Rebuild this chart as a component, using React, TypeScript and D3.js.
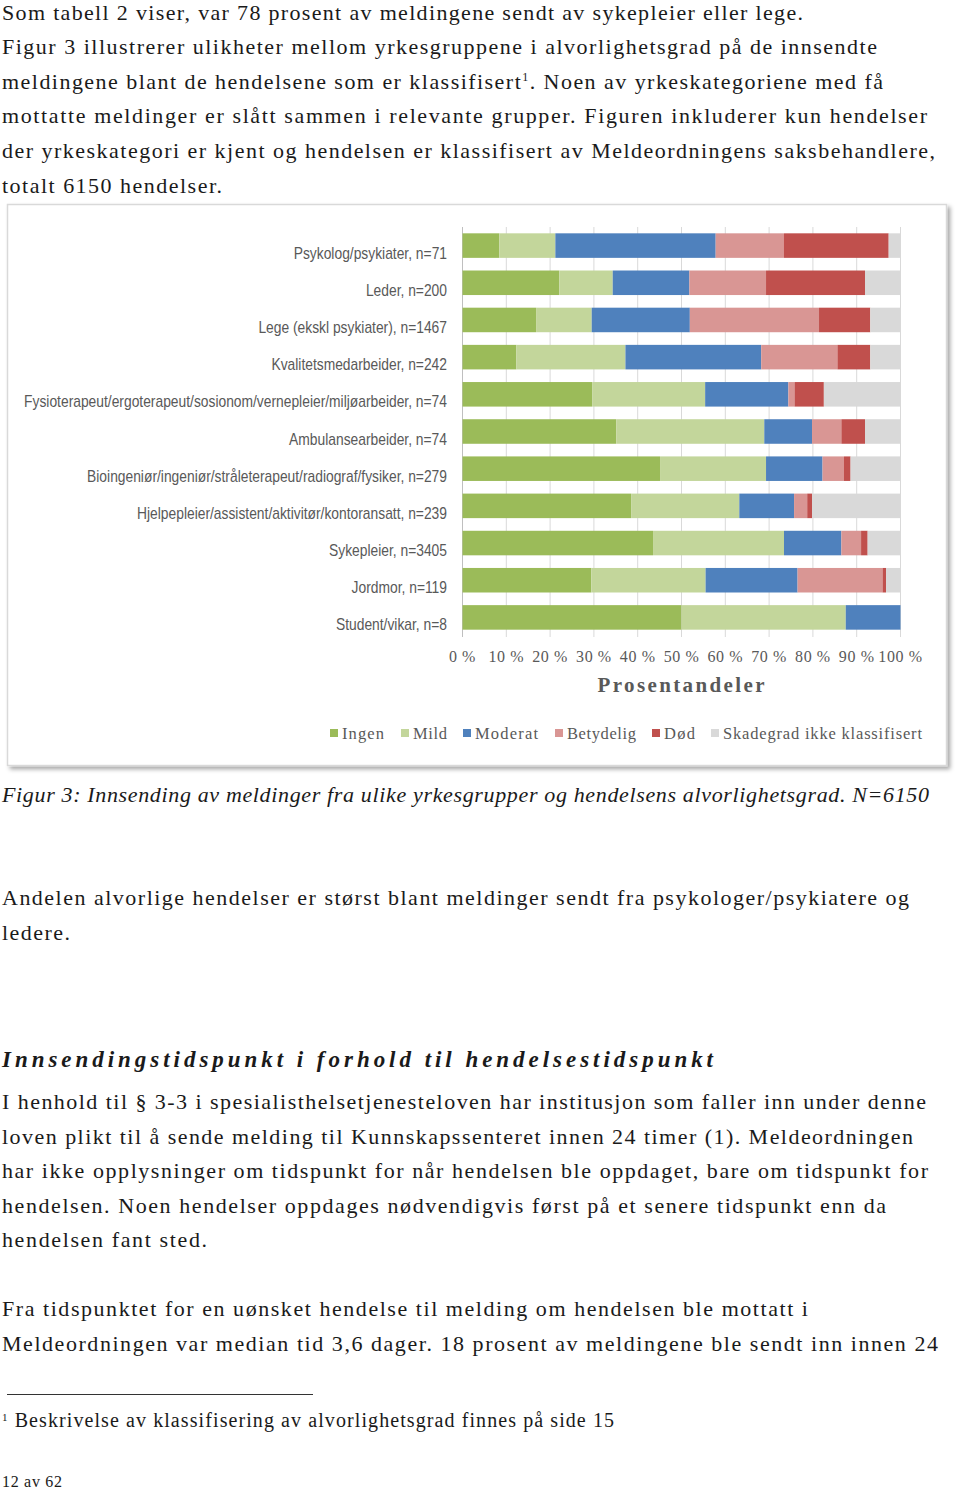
import React from "react";
import * as d3 from "d3";

const categories = [
  "Psykolog/psykiater, n=71",
  "Leder, n=200",
  "Lege (ekskl psykiater), n=1467",
  "Kvalitetsmedarbeider, n=242",
  "Fysioterapeut/ergoterapeut/sosionom/vernepleier/miljøarbeider, n=74",
  "Ambulansearbeider, n=74",
  "Bioingeniør/ingeniør/stråleterapeut/radiograf/fysiker, n=279",
  "Hjelpepleier/assistent/aktivitør/kontoransatt, n=239",
  "Sykepleier, n=3405",
  "Jordmor, n=119",
  "Student/vikar, n=8",
];

const seriesNames = ["Ingen", "Mild", "Moderat", "Betydelig", "Død", "Skadegrad ikke klassifisert"];
const seriesColors = ["#9bbb59", "#c3d69b", "#4f81bd", "#d99694", "#c0504d", "#d9d9d9"];

const ingen = [8.4, 22.1, 16.8, 12.3, 29.6, 35.1, 45.1, 38.5, 43.5, 29.4, 50.0];
const mild = [12.8, 12.2, 12.7, 24.9, 25.8, 33.8, 24.2, 24.7, 29.9, 26.1, 37.5];
const moderat = [36.6, 17.5, 22.4, 31.0, 19.0, 10.9, 12.9, 12.5, 13.1, 21.0, 12.5];
const betydelig = [15.6, 17.5, 29.5, 17.4, 1.4, 6.7, 4.9, 3.0, 4.5, 19.4, 0];
const dod = [23.9, 22.6, 11.7, 7.5, 6.7, 5.4, 1.5, 1.1, 1.5, 0.8, 0];
const ikkeKlass = [2.7, 8.1, 6.9, 6.9, 17.5, 8.1, 11.4, 20.2, 7.5, 3.3, 0];

const tickValues = [0, 10, 20, 30, 40, 50, 60, 70, 80, 90, 100];

const para1 = [
  { t: "Som tabell 2 viser, var 78 prosent av meldingene sendt av sykepleier eller lege.", w: 801 },
  { t: "Figur 3 illustrerer ulikheter mellom yrkesgruppene i alvorlighetsgrad på de innsendte", w: 875 },
  { t: "SUP", w: 881 },
  { t: "mottatte meldinger er slått sammen i relevante grupper. Figuren inkluderer kun hendelser", w: 925 },
  { t: "der yrkeskategori er kjent og hendelsen er klassifisert av Meldeordningens saksbehandlere,", w: 933 },
  { t: "totalt 6150 hendelser.", w: 220 },
];

const para3 = [
  { t: "I henhold til § 3-3 i spesialisthelsetjenesteloven har institusjon som faller inn under denne", w: 924 },
  { t: "loven plikt til å sende melding til Kunnskapssenteret innen 24 timer (1). Meldeordningen", w: 911 },
  { t: "har ikke opplysninger om tidspunkt for når hendelsen ble oppdaget, bare om tidspunkt for", w: 926 },
  { t: "hendelsen. Noen hendelser oppdages nødvendigvis først på et senere tidspunkt enn da", w: 884 },
  { t: "hendelsen fant sted.", w: 205 },
];

const para4 = [
  { t: "Fra tidspunktet for en uønsket hendelse til melding om hendelsen ble mottatt i", w: 806 },
  { t: "Meldeordningen var median tid 3,6 dager. 18 prosent av meldingene ble sendt inn innen 24", w: 936 },
];

const SERIF = "'Liberation Serif', 'Times New Roman', serif";
const SANS = "'Liberation Sans', Arial, sans-serif";
const TEXT = "#1a1a1a";
const GREY = "#595959";

export default function App() {
  const W = 960;
  const H = 1489;
  const x = d3.scaleLinear().domain([0, 100]).range([462.5, 900.5]);
  const y = d3.scaleBand<string>().domain(categories).range([227, 636]).paddingInner(0.34).paddingOuter(0.17);

  const rows = categories.map((c, i) => ({
    cat: c,
    Ingen: ingen[i],
    Mild: mild[i],
    Moderat: moderat[i],
    Betydelig: betydelig[i],
    Død: dod[i],
    "Skadegrad ikke klassifisert": ikkeKlass[i],
  }));
  const stack = d3.stack<any>().keys(seriesNames);
  const layers = stack(rows);

  const legendX = [330, 401, 463, 555, 652, 711];
  const legendW = [42, 34, 63, 69, 31, 199];

  const lineH = 34.6;
  const FS = 22;

  return (
    <div style={{ position: "absolute", left: 0, top: 0 }}>
      <svg width={W} height={H} viewBox={`0 0 ${W} ${H}`} style={{ display: "block", background: "#fff" }}>
        <defs>
          <filter id="shadow" x="-5%" y="-5%" width="112%" height="115%">
            <feDropShadow dx="3" dy="3" stdDeviation="2" floodColor="#000" floodOpacity="0.35" />
          </filter>
        </defs>
        <rect width={W} height={H} fill="#fff" />

        {/* paragraph 1 */}
        <g fontFamily={SERIF} fontSize={FS} fill={TEXT}>
          {para1.map((l, i) =>
            l.t === "SUP" ? (
              <text key={i} x={2} y={19.5 + i * lineH} textLength={l.w} lengthAdjust="spacing">
                meldingene blant de hendelsene som er klassifisert
                <tspan fontSize={12} dy={-8}>1</tspan>
                <tspan dy={8}>. Noen av yrkeskategoriene med få</tspan>
              </text>
            ) : (
              <text key={i} x={2} y={19.5 + i * lineH} textLength={l.w} lengthAdjust="spacing">
                {l.t}
              </text>
            )
          )}
        </g>

        {/* chart box */}
        <rect x={7.5} y={204.5} width={939} height={561} fill="#fff" stroke="#d9d9d9" strokeWidth={1.5} filter="url(#shadow)" />

        {/* gridlines */}
        <g>
          {tickValues.map((t) => (
            <line key={t} x1={x(t)} x2={x(t)} y1={227} y2={637} stroke="#d9d9d9" strokeWidth={1} />
          ))}
          <line x1={x(0)} x2={x(0)} y1={227} y2={637} stroke="#bfbfbf" strokeWidth={1} />
        </g>

        {/* bars */}
        {layers.map((layer, si) => (
          <g key={layer.key} fill={seriesColors[si]}>
            {layer.map((d, i) => {
              const w = x(d[1]) - x(d[0]);
              if (w <= 0) return null;
              return (
                <rect key={i} x={x(d[0])} y={y(categories[i])!} width={w} height={y.bandwidth()} />
              );
            })}
          </g>
        ))}

        {/* category labels (condensed) */}
        <g fontFamily={SANS} fontSize={16} fill={GREY} textAnchor="end">
          {categories.map((c) => (
            <text key={c} transform={`translate(447,${y(c)! + y.bandwidth() / 2 + 13}) scale(0.865,1)`}>
              {c}
            </text>
          ))}
        </g>

        {/* tick labels */}
        <g fontFamily={SERIF} fontSize={16} fill={GREY} textAnchor="middle" letterSpacing={0.6}>
          {tickValues.map((t) => (
            <text key={t} x={x(t)} y={662}>
              {`${t} %`}
            </text>
          ))}
        </g>

        <text x={681} y={692} textAnchor="middle" fontFamily={SERIF} fontSize={21} fontWeight="bold" fill={GREY} textLength={167} lengthAdjust="spacing">
          Prosentandeler
        </text>

        {/* legend */}
        <g fontFamily={SERIF} fontSize={16.5} fill={GREY}>
          {seriesNames.map((s, i) => (
            <g key={s}>
              <rect x={legendX[i]} y={729} width={8} height={8} fill={seriesColors[i]} />
              <text x={legendX[i] + 12} y={738.5} textLength={legendW[i]} lengthAdjust="spacing">
                {s}
              </text>
            </g>
          ))}
        </g>

        {/* caption */}
        <text x={2} y={802} fontFamily={SERIF} fontStyle="italic" fontSize={FS} fill={TEXT} textLength={927} lengthAdjust="spacing">
          Figur 3: Innsending av meldinger fra ulike yrkesgrupper og hendelsens alvorlighetsgrad. N=6150
        </text>

        <g fontFamily={SERIF} fontSize={FS} fill={TEXT}>
          <text x={2} y={905} textLength={907} lengthAdjust="spacing">
            Andelen alvorlige hendelser er størst blant meldinger sendt fra psykologer/psykiatere og
          </text>
          <text x={2} y={939.5} textLength={68} lengthAdjust="spacing">
            ledere.
          </text>
        </g>

        <text x={2} y={1067} fontFamily={SERIF} fontSize={23} fontWeight="bold" fontStyle="italic" fill={TEXT} textLength={711} lengthAdjust="spacing">
          Innsendingstidspunkt i forhold til hendelsestidspunkt
        </text>

        <g fontFamily={SERIF} fontSize={FS} fill={TEXT}>
          {para3.map((l, i) => (
            <text key={i} x={2} y={1109 + i * lineH} textLength={l.w} lengthAdjust="spacing">
              {l.t}
            </text>
          ))}
          {para4.map((l, i) => (
            <text key={"b" + i} x={2} y={1316 + i * lineH} textLength={l.w} lengthAdjust="spacing">
              {l.t}
            </text>
          ))}
        </g>

        <line x1={7} x2={313} y1={1394.5} y2={1394.5} stroke="#333" strokeWidth={1} />

        <text x={2} y={1427} fontFamily={SERIF} fontSize={20} fill={TEXT} textLength={612} lengthAdjust="spacing">
          <tspan fontSize={11} dy={-6}>1</tspan>
          <tspan dy={6}> Beskrivelse av klassifisering av alvorlighetsgrad finnes på side 15</tspan>
        </text>

        <text x={2} y={1487} fontFamily={SERIF} fontSize={16} fill={TEXT} textLength={60} lengthAdjust="spacing">
          12 av 62
        </text>
      </svg>
    </div>
  );
}
